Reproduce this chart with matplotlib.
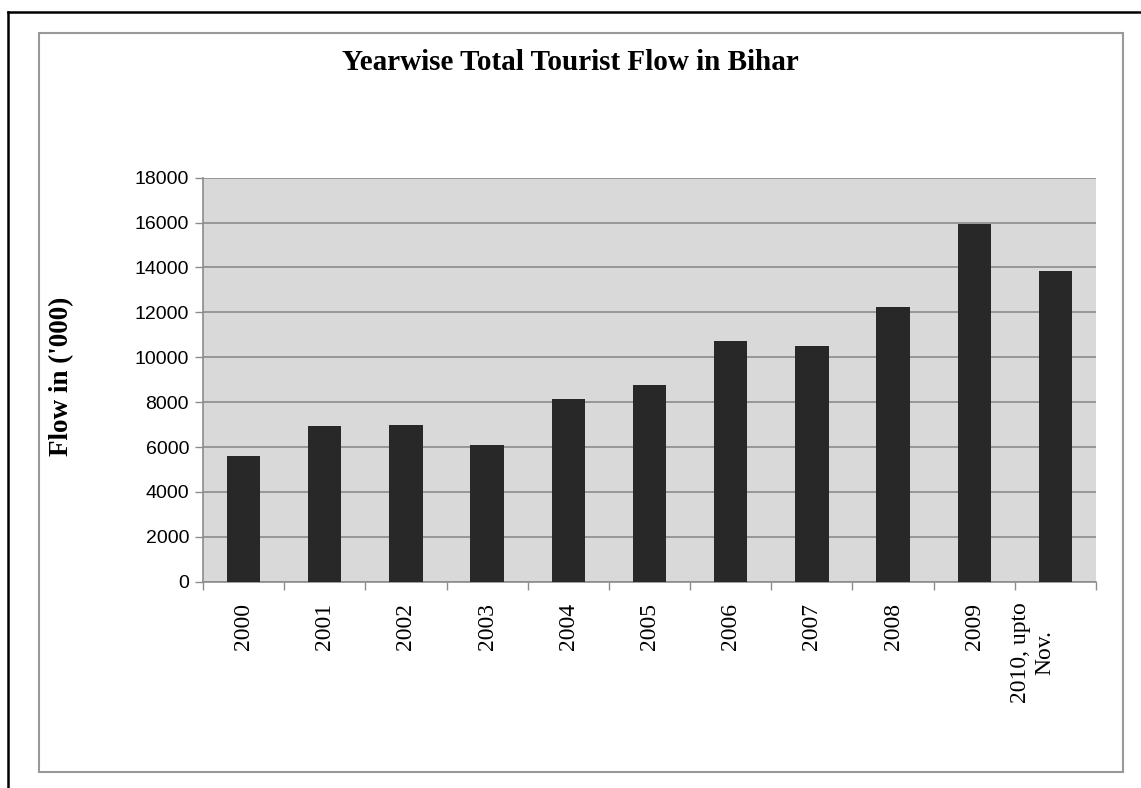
import numpy as np
import matplotlib
matplotlib.use('Agg')
import matplotlib.pyplot as plt
from matplotlib.patches import Rectangle
from matplotlib.lines import Line2D

# data
years = ['2000', '2001', '2002', '2003', '2004', '2005', '2006',
         '2007', '2008', '2009', '2010, upto\nNov.']
flow = [5600, 6936, 6980, 6090, 8140, 8762, 10723, 10500, 12238, 15950, 13842]
yticks = [0, 2000, 4000, 6000, 8000, 10000, 12000, 14000, 16000, 18000]

grid_col = '#8c8c8c'

fig = plt.figure(figsize=(11.41, 7.88), dpi=100)
ax = fig.add_axes([203/1141, 1 - 581.7/788, (1096 - 203)/1141, (581.7 - 177.7)/788])

x = np.arange(len(years))
ax.bar(x, flow, width=0.41, color='#282828', zorder=3)

ax.set_facecolor('#d9d9d9')
ax.set_xlim(-0.5, len(years) - 0.5)
ax.set_ylim(0, 18000)
ax.set_yticks(yticks)
ax.set_yticklabels([str(v) for v in yticks], fontfamily='Liberation Sans', fontsize=14)
ax.yaxis.grid(True, color=grid_col, linewidth=1.2, zorder=1)
ax.set_axisbelow(True)

# category labels at centres, tick marks at category boundaries
ax.set_xticks(x)
ax.set_xticklabels(years, rotation=90, fontfamily='Liberation Serif', fontsize=17,
                   va='top', multialignment='center')
ax.tick_params(axis='x', which='major', length=0, pad=15)
ax.set_xticks(np.arange(len(years) + 1) - 0.5, minor=True)
ax.tick_params(axis='x', which='minor', length=6, color=grid_col, width=1)
ax.tick_params(axis='y', length=6, color=grid_col, width=1, pad=4)
ax.get_xticklabels()[-1].set_ha('right')

for s in ['top', 'right']:
    ax.spines[s].set_visible(False)
for s in ['left', 'bottom']:
    ax.spines[s].set_color(grid_col)
    ax.spines[s].set_linewidth(1.2)

fig.text(62/1141, 1 - 376/788, "Flow in ('000)", fontfamily='Liberation Serif',
         fontweight='bold', fontsize=19.5, rotation=90, ha='center', va='center')

fig.text(570/1141, 1 - 63/788, 'Yearwise Total Tourist Flow in Bihar',
         fontfamily='Liberation Serif', fontweight='bold', fontsize=21,
         ha='center', va='center')

# chart frame and page border
fig.patches.append(Rectangle((39/1141, 1 - 772/788), (1123 - 39)/1141, (772 - 33)/788,
                             transform=fig.transFigure, fill=False,
                             edgecolor='#999999', linewidth=1.5))
fig.lines.append(Line2D([8/1141, 8/1141], [0, 1 - 12/788], transform=fig.transFigure,
                        color='black', linewidth=1.8))
fig.lines.append(Line2D([8/1141, 1], [1 - 12/788, 1 - 12/788], transform=fig.transFigure,
                        color='black', linewidth=1.8))

fig.savefig('out.png', dpi=100, facecolor='white')
